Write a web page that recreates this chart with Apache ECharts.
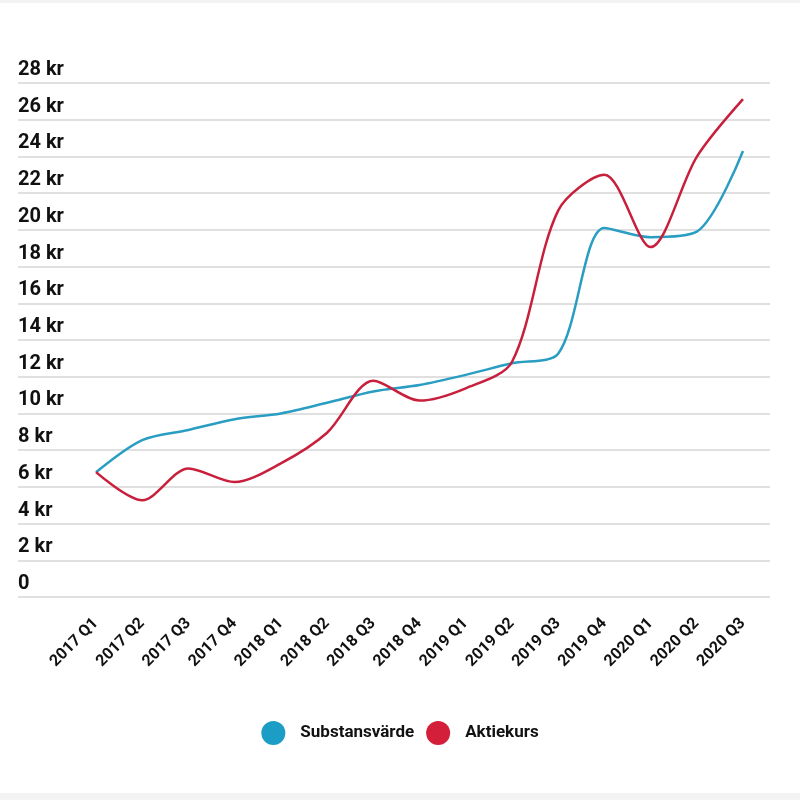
<!DOCTYPE html>
<html>
<head>
<meta charset="utf-8">
<script src="https://cdn.jsdelivr.net/npm/echarts@6/dist/echarts.min.js"></script>
<style>
html,body{margin:0;padding:0;background:#fff;}
#c{width:800px;height:800px;}
</style>
</head>
<body>
<div id="c"></div>
<script>
const categories = ['2017 Q1','2017 Q2','2017 Q3','2017 Q4','2018 Q1','2018 Q2','2018 Q3','2018 Q4','2019 Q1','2019 Q2','2019 Q3','2019 Q4','2020 Q1','2020 Q2','2020 Q3'];
const substansvarde = [6.8, 8.55, 9.1, 9.68, 10.0, 10.58, 11.2, 11.55, 12.1, 12.73, 13.25, 20.1, 19.6, 19.9, 24.3];
const aktiekurs = [6.8, 5.27, 7.0, 6.26, 7.28, 8.95, 11.78, 10.7, 11.37, 12.8, 21.05, 23.0, 19.06, 23.98, 27.12];
const yMin = 0, yMax = 28, yStep = 2;

const FONT = 'Roboto, "Liberation Sans", sans-serif';
const BLUE = '#2a9dc2';
const RED = '#c8203c';

const chart = echarts.init(document.getElementById('c'), null, {renderer: 'canvas'});
chart.setOption({
  backgroundColor: '#fff',
  animation: false,
  graphic: [
    {type: 'rect', shape: {x: 0, y: 0, width: 800, height: 3}, style: {fill: '#f3f3f3'}},
    {type: 'rect', shape: {x: 0, y: 793, width: 800, height: 7}, style: {fill: '#f3f3f3'}}
  ],
  grid: [
    {left: 18, right: 30, top: 83, bottom: 203},
    {left: 96, right: 57, top: 83, bottom: 203}
  ],
  xAxis: [
    {gridIndex: 0, type: 'value', min: 0, max: 1, show: false},
    {
      gridIndex: 1, type: 'category', data: categories, boundaryGap: false,
      axisLine: {show: false}, axisTick: {show: false},
      axisLabel: {rotate: 45, margin: 24, fontSize: 16, fontWeight: 'bold', color: '#111', fontFamily: FONT, interval: 0}
    }
  ],
  yAxis: [
    {
      gridIndex: 0, type: 'value', min: yMin, max: yMax, interval: yStep,
      axisLine: {show: false}, axisTick: {show: false},
      splitLine: {lineStyle: {color: '#d6d6d6', width: 1.5}},
      axisLabel: {
        inside: true, margin: 0, verticalAlign: 'bottom', align: 'left',
        fontSize: 20, fontWeight: 'bold', color: '#111', fontFamily: FONT,
        padding: [0, 0, 3, 0],
        formatter: v => v === 0 ? '0' : v + ' kr'
      }
    },
    {gridIndex: 1, type: 'value', min: yMin, max: yMax, interval: yStep, show: false, splitLine: {show: false}}
  ],
  legend: {
    bottom: 50, left: 'center', icon: 'circle', itemWidth: 24, itemHeight: 24, itemGap: 12,
    textStyle: {fontSize: 17, fontWeight: 'bold', color: '#111', fontFamily: FONT, padding: [0, 0, 0, 10]},
    data: [
      {name: 'Substansvärde', itemStyle: {color: '#1b9dc5'}},
      {name: 'Aktiekurs', itemStyle: {color: '#d31f3a'}}
    ]
  },
  series: [
    {name: 'Substansvärde', type: 'line', xAxisIndex: 1, yAxisIndex: 1, data: substansvarde, smooth: 0.3, symbol: 'none', color: BLUE, lineStyle: {width: 2.5, color: BLUE}},
    {name: 'Aktiekurs', type: 'line', xAxisIndex: 1, yAxisIndex: 1, data: aktiekurs, smooth: 0.3, symbol: 'none', color: RED, lineStyle: {width: 2.5, color: RED}}
  ]
});
</script>
</body>
</html>
